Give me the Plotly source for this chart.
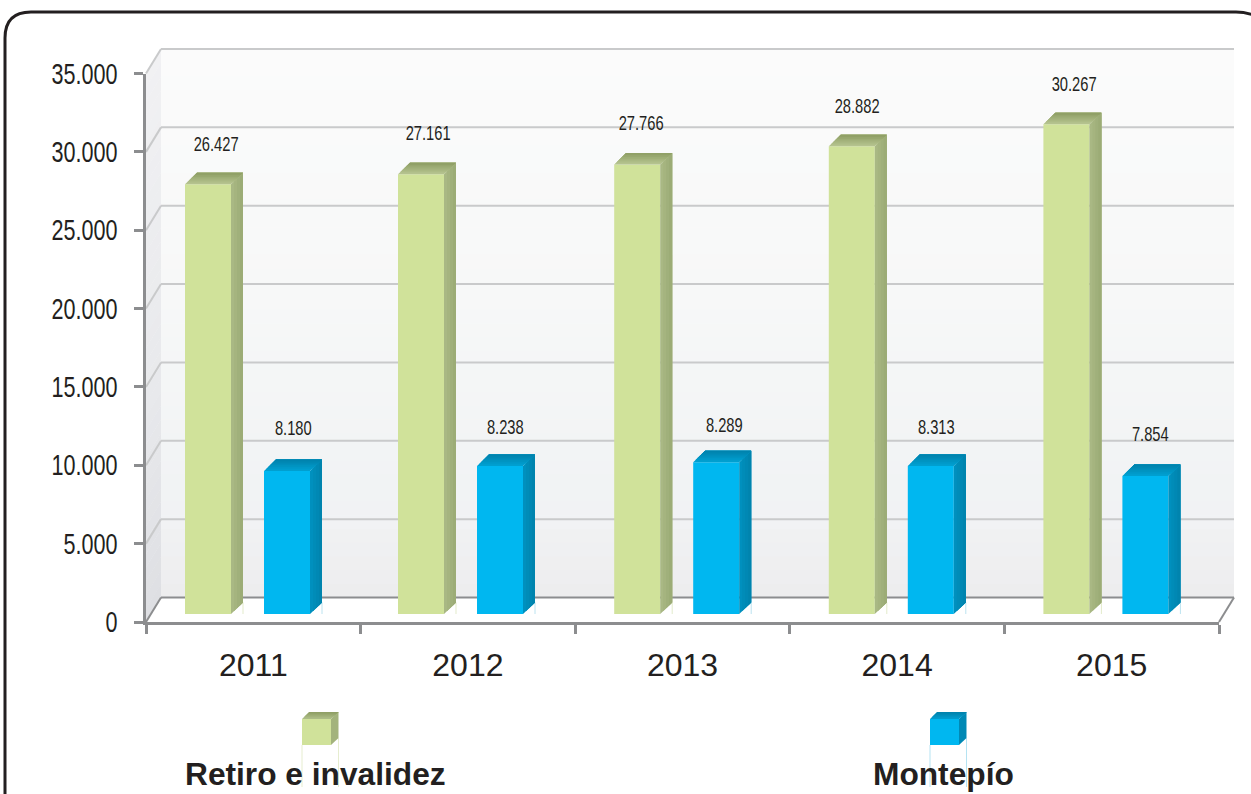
import plotly.graph_objects as go

W, H = 1251, 794
years = ["2011", "2012", "2013", "2014", "2015"]
retiro_labels = ["26.427", "27.161", "27.766", "28.882", "30.267"]
montepio_labels = ["8.180", "8.238", "8.289", "8.313", "7.854"]
# Height of each bar's front face against the front axis
retiro_tops = [27930, 28570, 29200, 30350, 31760]
montepio_tops = [9630, 9950, 10200, 9950, 9310]
bar_floor = 510
y_ticks = [0, 5000, 10000, 15000, 20000, 25000, 30000, 35000]
y_tick_text = ["0", "5.000", "10.000", "15.000", "20.000", "25.000", "30.000", "35.000"]
series_names = ["Retiro e invalidez", "Montepío"]

INK = "#231F20"
AXIS = "#8C8D8F"
GRID = "#C9CACB"
FONT = "Liberation Sans"

# pixel frame of the axes
X0, X1, Y0, Y1 = 146.0, 1219.0, 622.0, 73.5
DX, DY = 15.0, 24.5
x_idx = list(range(len(years)))
cat_px = (X1 - X0) / len(years)
val_px = (Y0 - Y1) / 35000
BAR_W = 46 / cat_px
GREEN_OFF = (185 - (X0 + cat_px / 2)) / cat_px
BLUE_OFF = (264 - (X0 + cat_px / 2)) / cat_px
NUDGE = [0, -1.6 / cat_px, 0, 0, 0]
SIDE_X = 12 / cat_px
SIDE_Y = 11.5 / val_px
# label placement relative to the default spot above each bar, in pixels
GREEN_SHIFT = [(1, 1), (-2, 2), (-3, 2), (-2, 1), (1, 1)]
BLUE_SHIFT = [(-1, 4), (-3, 0), (1, -2), (-1, 0), (-2, 3)]


def px(x):
    return x / W


def py(y):
    return 1 - y / H


def lerp(stops, t):
    for (t0, c0), (t1, c1) in zip(stops, stops[1:]):
        if t <= t1:
            f = (t - t0) / (t1 - t0)
            return "rgb(%d,%d,%d)" % tuple(round(a + (b - a) * f) for a, b in zip(c0, c1))
    return "rgb(%d,%d,%d)" % stops[-1][1]


def poly(points, color):
    path = "M " + " L ".join(f"{px(a):.5f},{py(b):.5f}" for a, b in points) + " Z"
    return dict(type="path", path=path, xref="paper", yref="paper", fillcolor=color,
                line=dict(width=0), layer="below")


def seg(a, b, c, d, color, width):
    return dict(type="line", xref="paper", yref="paper", x0=px(a), y0=py(b), x1=px(c), y1=py(d),
                line=dict(color=color, width=width), layer="below")


shapes = []
# back wall and left wall gradients
wall_stops = [(0, (251, 251, 251)), (0.45, (247, 248, 248)), (0.72, (242, 244, 245)),
              (0.85, (241, 242, 244)), (1, (237, 237, 238))]
side_stops = [(0, (241, 241, 243)), (0.6, (232, 233, 236)), (1, (222, 223, 227))]
BANDS = 40
for i in range(BANDS):
    t0, t1 = i / BANDS, (i + 1) / BANDS
    f = (i + 0.5) / BANDS
    a = Y1 - DY + (Y0 - Y1) * t0
    b = Y1 - DY + (Y0 - Y1) * t1 + 0.6
    shapes.append(poly([(X0 + DX, a), (X1 + DX, a), (X1 + DX, b), (X0 + DX, b)], lerp(wall_stops, f)))
    shapes.append(poly([(X0, a + DY), (X0 + DX, a), (X0 + DX, b), (X0, b + DY)], lerp(side_stops, f)))

# gridlines on the walls
for v in y_ticks[1:]:
    yy = Y0 - v * val_px
    shapes.append(seg(X0, yy, X0 + DX, yy - DY, GRID, 2))
    shapes.append(seg(X0 + DX, yy - DY, X1 + DX, yy - DY, GRID, 2))
shapes.append(seg(X0, Y0, X0 + DX, Y0 - DY, AXIS, 2))
shapes.append(seg(X0 + DX, Y0 - DY, X1 + DX, Y0 - DY, AXIS, 2))
shapes.append(seg(X1, Y0, X1 + DX, Y0 - DY, AXIS, 2))

# rounded frame, cut by the page edges
shapes.append(dict(type="path", xref="paper", yref="paper",
                   path=f"M {px(5)},{py(800)} L {px(5)},{py(38)} Q {px(5)},{py(12)} {px(31)},{py(12)} "
                        f"L {px(1236)},{py(12)} Q {px(1246)},{py(12)} {px(1256)},{py(16)}",
                   line=dict(color=INK, width=3), layer="below"))

# legend glyphs
legend_top = [(0, (176, 192, 138)), (1, (140, 156, 98))], [(0, (0, 158, 208)), (1, (0, 128, 170))]
for (x_l, front, side, tops_c, thin) in [(302, "#D0E29A", "#A3B37C", legend_top[0], "#E6EDCF"),
                                        (930, "#00B7F0", "#0089B5", legend_top[1], "#B5E3F2")]:
    x_r = x_l + 29
    shapes.append(seg(x_l, 745, x_l, 787, thin, 1))
    shapes.append(seg(x_r + 7.5, 738, x_r + 7.5, 787, thin, 1))
    shapes.append(poly([(x_l, 719), (x_r, 719), (x_r, 745), (x_l, 745)], front))
    shapes.append(poly([(x_r, 719), (x_r + 7.5, 712), (x_r + 7.5, 738), (x_r, 745)], side))
    for k in range(5):
        u = k / 5
        shapes.append(poly([(x_l + 7.5 * u, 719 - 7 * u), (x_r + 7.5 * u, 719 - 7 * u),
                            (x_r + 7.5, 712), (x_l + 7.5, 712)], lerp(tops_c, u + 0.1)))

fig = go.Figure()


def add_bars(name, tops, offset, front, side_stops_, top_stops, thin):
    xs_l = [i + offset + d for i, d in zip(x_idx, NUDGE)]
    xs_r = [x + BAR_W for x in xs_l]
    # thin edge behind each bar foot
    lx, ly = [], []
    for xr in xs_r:
        lx += [xr + SIDE_X, xr + SIDE_X, None]
        ly += [bar_floor, bar_floor + SIDE_Y, None]
    fig.add_trace(go.Scatter(x=lx, y=ly, mode="lines", line=dict(color=thin, width=1),
                             hoverinfo="skip", showlegend=False))
    # right side, painted over itself from front to back edge
    n = 4
    for k in range(n):
        u0 = k / n
        sx, sy = [], []
        for xr, t in zip(xs_r, tops):
            sx += [xr + SIDE_X * u0, xr + SIDE_X, xr + SIDE_X, xr + SIDE_X * u0, None]
            sy += [bar_floor + SIDE_Y * u0, bar_floor + SIDE_Y, t + SIDE_Y, t + SIDE_Y * u0, None]
        fig.add_trace(go.Scatter(x=sx, y=sy, mode="lines", line=dict(width=0), fill="toself",
                                 fillcolor=lerp(side_stops_, (k + 0.5) / n),
                                 hoverinfo="skip", showlegend=False))
    # top face, painted over itself from front to back edge
    n = 6
    for k in range(n):
        u0 = k / n
        sx, sy = [], []
        for xl, xr, t in zip(xs_l, xs_r, tops):
            sx += [xl + SIDE_X * u0, xr + SIDE_X * u0, xr + SIDE_X, xl + SIDE_X, None]
            sy += [t + SIDE_Y * u0, t + SIDE_Y * u0, t + SIDE_Y, t + SIDE_Y, None]
        fig.add_trace(go.Scatter(x=sx, y=sy, mode="lines", line=dict(width=0), fill="toself",
                                 fillcolor=lerp(top_stops, (k + 0.5) / n),
                                 hoverinfo="skip", showlegend=False))
    fig.add_trace(go.Bar(x=x_idx, y=[t - bar_floor for t in tops], base=bar_floor, width=BAR_W,
                         offset=[offset + d for d in NUDGE], marker=dict(color=front, line=dict(width=0)),
                         name=name, showlegend=False))


add_bars(series_names[0], retiro_tops, GREEN_OFF, "#D0E29A",
         [(0, (171, 186, 134)), (1, (154, 170, 116))],
         [(0, (184, 198, 146)), (1, (140, 156, 98))], "#E3EBCB")
add_bars(series_names[1], montepio_tops, BLUE_OFF, "#00B7F0",
         [(0, (0, 146, 192)), (1, (0, 130, 172))],
         [(0, (0, 162, 212)), (1, (0, 128, 170))], "#BCE3F0")

annotations = []
for tops, labels, off, shifts in [(retiro_tops, retiro_labels, GREEN_OFF, GREEN_SHIFT),
                                  (montepio_tops, montepio_labels, BLUE_OFF, BLUE_SHIFT)]:
    for i, (t, lab, (sx, sy)) in enumerate(zip(tops, labels, shifts)):
        annotations.append(dict(x=i + off + BAR_W / 2, y=t, xref="x", yref="y", text=lab, showarrow=False,
                                xshift=7 + sx, yshift=40 + sy, xanchor="center", yanchor="middle",
                                font=dict(family=FONT, size=21, color=INK)))
for name, x_text in zip(series_names, [185, 873]):
    annotations.append(dict(x=px(x_text), y=py(774), xref="paper", yref="paper", text=name,
                            showarrow=False, xanchor="left", yanchor="middle", xshift=-2,
                            font=dict(family=FONT, size=31.7, color=INK, weight="bold")))

fig.update_layout(
    width=W, height=H, autosize=False, margin=dict(l=0, r=0, t=0, b=0),
    paper_bgcolor="white", plot_bgcolor="rgba(0,0,0,0)", showlegend=False, barmode="overlay",
    shapes=shapes, annotations=annotations,
    xaxis=dict(domain=[px(X0), px(X1)], range=[-0.5, 4.5], tickmode="array", tickvals=x_idx, ticktext=years,
               ticks="", showgrid=False, zeroline=False, showline=True, linecolor=AXIS, linewidth=2.5,
               automargin=False, tickfont=dict(family=FONT, size=32, color=INK), ticklabelstandoff=13,
               minor=dict(tickmode="array", tickvals=[i - 0.5 for i in range(len(years) + 1)], ticks="outside",
                          ticklen=9, tickwidth=2.5, tickcolor=AXIS, showgrid=False),
               anchor="y"),
    yaxis=dict(domain=[py(Y0), py(Y1)], range=[0, 35000], tickmode="array", tickvals=y_ticks, ticktext=y_tick_text,
               ticks="outside", ticklen=9, tickwidth=2.5, tickcolor=AXIS, showgrid=False, zeroline=False,
               showline=True, linecolor=AXIS, linewidth=2.5, ticklabelstandoff=11, automargin=False,
               tickfont=dict(family=FONT, size=29, color=INK), anchor="x"),
)

# The reference's numerals are horizontally condensed; no narrow face is installed,
# so the real text elements are squeezed with SVG textLength.
post = """
document.body.style.margin='0';document.documentElement.style.overflow='hidden';
function squeeze(){
  var gd=document.getElementById('{plot_id}');
  function sq(sel,s){gd.querySelectorAll(sel).forEach(function(t){
    if(t.getAttribute('textLength'))return;
    var n=t.getComputedTextLength();
    t.setAttribute('lengthAdjust','spacingAndGlyphs');t.setAttribute('textLength',n*s);});}
  sq('.ytick text',0.744);
  gd.querySelectorAll('.annotation-text').forEach(function(t){
    if(/^[0-9.]+$/.test(t.textContent)&&!t.getAttribute('textLength')){
      var n=t.getComputedTextLength();
      t.setAttribute('lengthAdjust','spacingAndGlyphs');t.setAttribute('textLength',n*0.70);}
  });
}
squeeze();setTimeout(squeeze,50);
"""
fig.write_html("out.html", post_script=post, config={"displayModeBar": False})
